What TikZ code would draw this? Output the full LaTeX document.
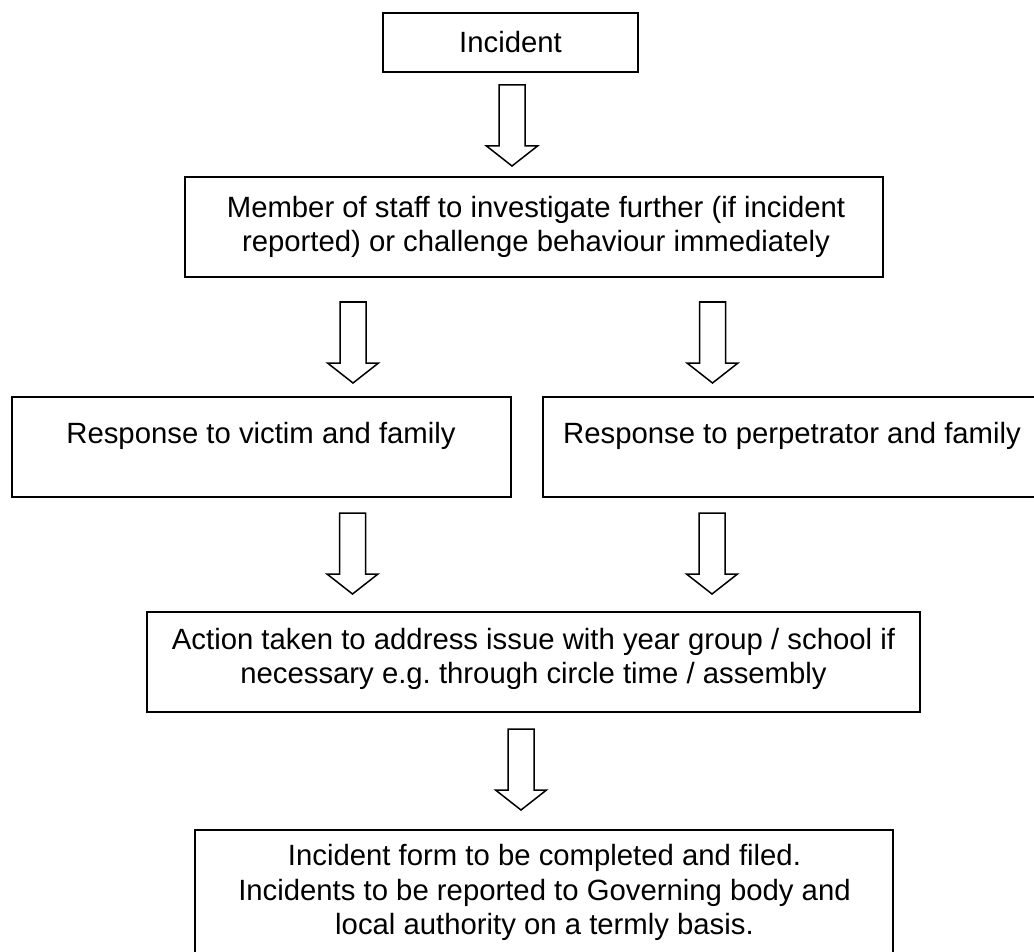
\documentclass[tikz,border=0pt]{standalone}
\usepackage{fontspec}
\setmainfont{Liberation Sans}
\frenchspacing
\begin{document}
\begin{tikzpicture}[x=1pt,y=-1pt,
  box/.style={draw=black, line width=2pt, rectangle, inner sep=0pt, fill=none},
  txt/.style={align=center, inner sep=0pt, font=\fontsize{29.3}{34.5}\selectfont},
  arrowline/.style={draw=black, line width=1.5pt, line join=miter, fill=white},
  blockarrow/.pic={\path[arrowline] (-13,0) -- (13,0) -- (13,61) -- (25.5,61) -- (0,81) -- (-25.5,61) -- (-13,61) -- cycle;}
]
\useasboundingbox (0,0) rectangle (1034,952);
\clip (0,0) rectangle (1034,952);
\fill[white] (0,0) rectangle (1034,952);

% boxes
\node[box, minimum width=255pt, minimum height=59pt] (inc) at (510.5,42.5) {};
\node[txt] (inct) at (510.5,42.5) {Incident};

\node[box, minimum width=698pt, minimum height=100pt] (staff) at (534,227) {};
\node[txt] (stafft) at (536,227) {Member of staff to investigate further (if incident\\reported) or challenge behaviour immediately};

\node[box, minimum width=499pt, minimum height=100pt] (victim) at (261.5,447) {};
\node[txt] (victimt) at (261,436) {Response to victim and family};

\node[box, minimum width=497pt, minimum height=100pt] (perp) at (791.5,447) {};
\node[txt] (perpt) at (792,436) {Response to perpetrator and family};

\node[box, minimum width=773pt, minimum height=100pt] (action) at (533.5,662) {};
\node[txt] (actiont) at (533.5,659) {Action taken to address issue with year group / school if\\necessary e.g. through circle time / assembly};

\node[box, minimum width=698pt, minimum height=150pt] (form) at (544,905) {};
\node[txt] (formt) at (544.5,892.5) {Incident form to be completed and filed.\\Incidents to be reported to Governing body and\\local authority on a termly basis.};

% block arrows
\coordinate (a1) at (512,85);
\coordinate (a2l) at (353,302);
\coordinate (a2r) at (712.5,302);
\coordinate (a3l) at (352.5,513);
\coordinate (a3r) at (712,513);
\coordinate (a4) at (521,729);
\pic at (a1) {blockarrow};
\pic at (a2l) {blockarrow};
\pic at (a2r) {blockarrow};
\pic at (a3l) {blockarrow};
\pic at (a3r) {blockarrow};
\pic at (a4) {blockarrow};
\end{tikzpicture}
\end{document}
